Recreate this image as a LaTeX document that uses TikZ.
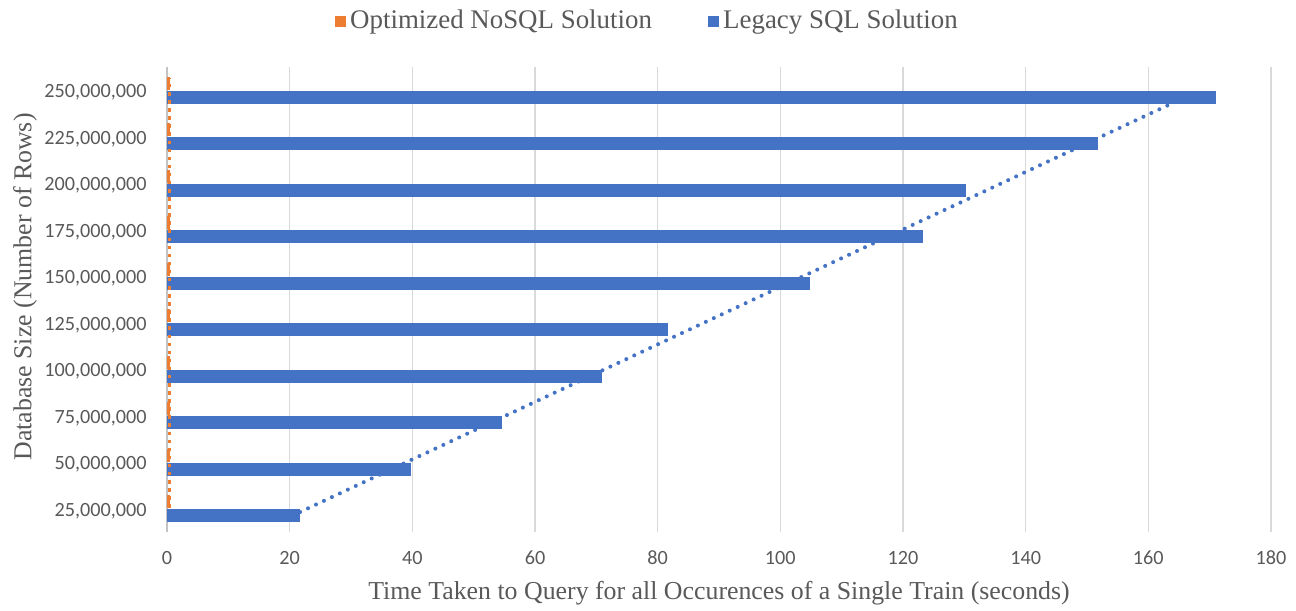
\documentclass[tikz,border=0pt]{standalone}
\usepackage{fontspec}
\setmainfont{Liberation Serif}
\newfontfamily\tickfont{Carlito}
\usetikzlibrary{positioning}
\definecolor{barblue}{HTML}{4472C4}
\definecolor{barorange}{HTML}{ED7D31}
\definecolor{gridgray}{HTML}{D9D9D9}
\definecolor{labelgray}{HTML}{595959}

\begin{document}
\begin{tikzpicture}[x=0.12267cm,y=0.93cm,
		ticklabel/.style={font=\tickfont\fontsize{11.5}{12}\selectfont,text=labelgray,inner sep=0pt},
		axistitle/.style={font=\fontsize{14.7}{16}\selectfont,text=labelgray,inner sep=0pt},
		legendtext/.style={font=\fontsize{15.3}{17}\selectfont,text=labelgray,inner sep=0pt,anchor=west},
		legendkey/.style={minimum size=0.22cm,inner sep=0pt},
		trendline/.style={line width=2.3pt,line cap=round,dash pattern=on 0pt off 5pt}]
		% fix the page to the size of the chart
		\useasboundingbox (-3.34cm,-1.56cm) rectangle (22.58cm,10.64cm);
		% bar thickness and offset of each series from the category centre
		\pgfmathsetmacro{\barHalf}{0.14}
		\pgfmathsetmacro{\barShift}{0.15}
		
		% vertical grid
		\foreach \t in {20,40,...,180}
		\draw[gridgray,line width=0.9pt] (\t,0) -- (\t,10);
		\draw[gridgray!90!black,line width=0.9pt] (0,0) -- (0,10);
		\foreach \t in {0,20,...,180}
		\node[ticklabel] (xtick\t) at (\t,-0.56) {\t};
		
		% category labels
		\foreach \i in {1,...,10}{
			\pgfmathtruncatemacro{\mrows}{25*\i}
			\node[ticklabel,anchor=east] (ytick\i) at (-3.26,\i-0.55) {\mrows,000,000};
		}
		
		% legacy SQL bars
		\foreach \i/\v in {1/21.7,2/39.8,3/54.6,4/70.9,5/81.7,6/104.8,7/123.2,8/130.2,9/151.8,10/171.1}
		\fill[barblue] (0,{\i-0.5-\barShift-\barHalf}) rectangle (\v,{\i-0.5-\barShift+\barHalf});
		% optimized NoSQL bars (almost zero)
		\foreach \i in {1,...,10}
		\fill[barorange] (0,{\i-0.5+\barShift-\barHalf}) rectangle (0.45,{\i-0.5+\barShift+\barHalf});
		
		% linear trendlines
		\coordinate (sqlstart) at (21.7,0.43);
		\coordinate (sqlend) at (168.1,9.48);
		\draw[trendline,barblue] (sqlstart) -- (sqlend);
		\coordinate (nosqlstart) at (0.35,0.52);
		\coordinate (nosqlend) at (0.35,9.76);
		\draw[barorange,line width=1.8pt,dash pattern=on 2pt off 2.6pt] (nosqlstart) -- (nosqlend);
		
		% legend
		\node[legendkey,fill=barorange] (keynosql) at (3.47cm,10.2cm) {};
		\node[legendtext,right=0.07cm of keynosql] (labnosql) {Optimized NoSQL Solution};
		\node[legendkey,fill=barblue] (keysql) at (10.92cm,10.2cm) {};
		\node[legendtext,right=0.08cm of keysql] (labsql) {Legacy SQL Solution};
		
		% axis titles
		\node[axistitle] (xtitle) at (11.04cm,-1.22cm) {Time Taken to Query for all Occurences of a Single Train (seconds)};
		\node[axistitle,rotate=90] (ytitle) at (-2.84cm,4.9cm) {Database Size (Number of Rows)};
	\end{tikzpicture}
\end{document}
